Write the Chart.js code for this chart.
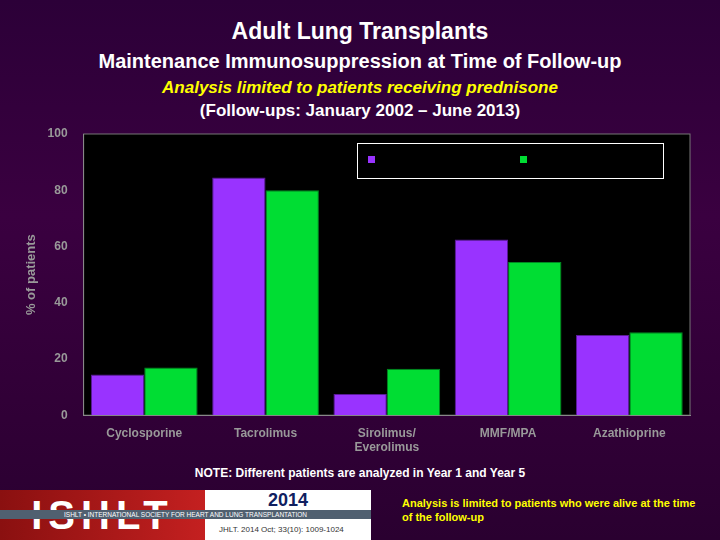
<!DOCTYPE html>
<html><head><meta charset="UTF-8">
<script src="https://cdn.jsdelivr.net/npm/chart.js@4.4.4/dist/chart.umd.min.js"></script>
<style>
  body { margin: 0; width: 720px; height: 540px; overflow: hidden; font-family: "Liberation Sans", Arial, sans-serif;
    background: linear-gradient(180deg, #2c0038 0%, #3a0040 40%, #2a0030 100%); position: relative; }
  .t { position: absolute; left: 0; width: 720px; text-align: center; font-weight: bold; }
  #wrap { position: absolute; left: 0; top: 114px; width: 720px; height: 344px; }
  .legend { position: absolute; left: 357px; top: 143px; width: 305px; height: 34px; border: 1px solid #fff; }
  .legend span { position: absolute; top: 12px; width: 7px; height: 7px; }
  .footer { position: absolute; top: 490px; height: 50px; }
</style></head>
<body>
<div class="t" style="top:18px;font-size:23px;color:#fff">Adult Lung Transplants</div>
<div class="t" style="top:50px;font-size:20px;color:#fff">Maintenance Immunosuppression at Time of Follow-up</div>
<div class="t" style="top:78px;font-size:17px;color:#ffff00;font-style:italic">Analysis limited to patients receiving prednisone</div>
<div class="t" style="top:101px;font-size:17px;color:#fff">(Follow-ups: January 2002 – June 2013)</div>
<div id="wrap"><canvas id="c"></canvas></div>
<div class="legend">
  <span style="left:10px;background:#9933ff"></span><b style="position:absolute;left:22px;top:8px;font-size:11px;color:#000">Year 1</b>
  <span style="left:162px;background:#00dd33"></span><b style="position:absolute;left:174px;top:8px;font-size:11px;color:#000">Year 5</b>
</div>
<div class="t" style="top:466px;font-size:12px;color:#fff">NOTE: Different patients are analyzed in Year 1 and Year 5</div>
<div class="footer" style="left:0;width:205px;background:linear-gradient(90deg,#8a1010,#c42020);color:#fff;font-size:40px;font-weight:bold;letter-spacing:6px;text-align:center;line-height:50px">ISHLT</div>
<div class="footer" style="left:205px;width:166px;background:#fff">
  <div style="text-align:center;font-size:18px;font-weight:bold;color:#102060">2014</div>
  <div style="font-size:8px;color:#333;margin:14px 0 0 14px">JHLT. 2014 Oct; 33(10): 1009-1024</div>
</div>
<div style="position:absolute;left:0;top:510px;width:371px;height:9px;background:#506070;color:#fff;font-size:6.5px;line-height:9px;text-align:center">ISHLT • INTERNATIONAL SOCIETY FOR HEART AND LUNG TRANSPLANTATION</div>
<div style="position:absolute;left:402px;top:496px;width:300px;font-size:11px;font-weight:bold;color:#ffff00;line-height:14px">Analysis is limited to patients who were alive at the time of the follow-up</div>
<script>
const categories = ['Cyclosporine', 'Tacrolimus', ['Sirolimus/', 'Everolimus'], 'MMF/MPA', 'Azathioprine'];
const year1 = [14.5, 84.5, 7.5, 62.5, 28.5];
const year5 = [17, 80, 16.5, 54.5, 29.5];
const yTicks = [0, 20, 40, 60, 80, 100];

const plotBg = {
  id: 'plotBg',
  beforeDraw(chart) {
    const a = chart.chartArea, ctx = chart.ctx;
    ctx.save();
    ctx.fillStyle = '#000';
    ctx.fillRect(a.left, a.top, a.right - a.left, a.bottom - a.top);
    ctx.strokeStyle = '#777';
    ctx.strokeRect(a.left, a.top, a.right - a.left, a.bottom - a.top);
    ctx.restore();
  }
};

new Chart(document.getElementById('c'), {
  type: 'bar',
  data: {
    labels: categories,
    datasets: [
      { label: 'Year 1', data: year1, backgroundColor: '#9933ff', borderColor: '#5a1a99', borderWidth: 1 },
      { label: 'Year 5', data: year5, backgroundColor: '#00dd33', borderColor: '#008822', borderWidth: 1 },
    ],
  },
  options: {
    responsive: true, maintainAspectRatio: false, animation: false,
    layout: { padding: { left: 24, right: 30, top: 20 } },
    plugins: { legend: { display: false }, tooltip: { enabled: false } },
    datasets: { bar: { categoryPercentage: 0.88, barPercentage: 1 } },
    scales: {
      x: {
        grid: { display: false },
        border: { color: '#888' },
        ticks: { color: '#999', font: { size: 12, weight: 'bold' }, maxRotation: 0 },
      },
      y: {
        min: 0, max: 100,
        afterBuildTicks: (ax) => { ax.ticks = yTicks.map((v) => ({ value: v })); },
        grid: { display: false },
        border: { color: '#888' },
        ticks: { color: '#999', font: { size: 12, weight: 'bold' }, padding: 8 },
        title: { display: true, text: '% of patients', color: '#999', font: { size: 13, weight: 'bold' }, padding: 0 },
      },
    },
  },
  plugins: [plotBg],
});
</script>
</body></html>
